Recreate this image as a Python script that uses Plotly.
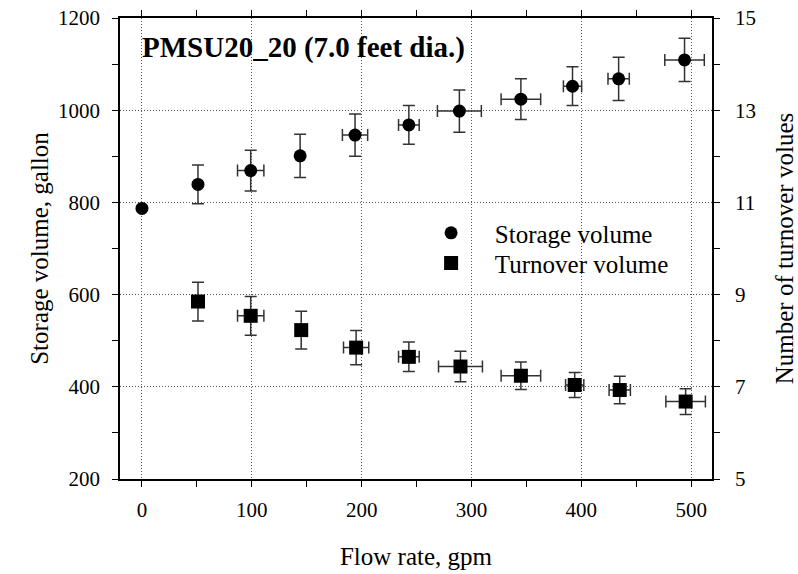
import plotly.graph_objects as go

# ---- data ----
storage_x = [0, 51, 99, 144, 194, 243, 289, 345, 392, 434, 494]
storage_y = [787, 839, 869, 901, 946, 968, 998, 1024, 1052, 1068, 1109]
storage_yerr = [None, 42, 44, 47, 46, 42, 46, 44, 42, 47, 47]
storage_xerr = [None, None, 12, None, 11.5, 9.4, 20, 18, 8.3, 9.7, 18]

turnover_x = [51, 99, 145, 195, 243, 290, 345, 394, 435, 495]
turnover_y = [585, 554, 523, 485, 465, 444, 424, 404, 393, 368]
turnover_yerr = [42, 42, 41, 37, 32, 33, 30, 27, 30, 28]
turnover_xerr = [None, 12, None, 11.5, 9.4, 20, 18, 8.3, 9.7, 18]

x_ticks = [0, 100, 200, 300, 400, 500]
y_ticks = [200, 400, 600, 800, 1000, 1200]
y2_ticks = [5, 7, 9, 11, 13, 15]

FONT = "Liberation Serif, Times New Roman, serif"
ERR = dict(type="data", color="#333333", thickness=1.5, width=6)
PAD = "\u00a0\u00a0\u00a0\u2009"

fig = go.Figure()
fig.add_trace(go.Scatter(
    x=storage_x, y=storage_y, mode="markers",
    name=PAD + "Storage volume", legend="legend",
    marker=dict(symbol="circle", size=13, color="black"),
    error_y=dict(array=storage_yerr, **ERR),
    error_x=dict(array=storage_xerr, **ERR),
))
fig.add_trace(go.Scatter(
    x=turnover_x, y=turnover_y, mode="markers",
    name=PAD + "Turnover volume", legend="legend2",
    marker=dict(symbol="square", size=14, color="black"),
    error_y=dict(array=turnover_yerr, **ERR),
    error_x=dict(array=turnover_xerr, **ERR),
))
# empty trace so the right-hand axis is drawn
fig.add_trace(go.Scatter(x=[None], y=[None], yaxis="y2", showlegend=False,
                         hoverinfo="skip", mode="markers"))

axis_common = dict(
    ticks="outside", ticklen=6, tickwidth=1, tickcolor="black",
    showline=True, linecolor="black", linewidth=1.5, automargin=False,
    zeroline=False, tickfont=dict(family=FONT, size=21, color="black"),
)
GRID = dict(showgrid=True, gridcolor="#555555", griddash="1px,2px", gridwidth=1)
LEG = dict(xanchor="left", yanchor="middle",
           font=dict(family=FONT, size=25, color="black"),
           bgcolor="rgba(0,0,0,0)", borderwidth=0)

fig.update_layout(
    width=798, height=574,
    margin=dict(l=120, r=86, t=18, b=95, autoexpand=False),
    paper_bgcolor="white", plot_bgcolor="white",
    font=dict(family=FONT, color="black"),
    showlegend=True,
    legend=dict(x=0.5255, y=0.5335, **LEG),
    legend2=dict(x=0.5255, y=0.468, **LEG),
    xaxis=dict(
        range=[-20, 519], tickvals=x_ticks, mirror="ticks",
        minor=dict(dtick=50, tick0=0, ticks="outside", ticklen=6, tickcolor="black", showgrid=False),
        title=dict(text="Flow rate, gpm", font=dict(family=FONT, size=25), standoff=27),
        ticklabelstandoff=5,
        **GRID, **axis_common,
    ),
    yaxis=dict(
        range=[200, 1200], tickvals=y_ticks, mirror=True,
        minor=dict(dtick=100, tick0=0, ticks="outside", ticklen=6, tickcolor="black", showgrid=False),
        title=dict(text="Storage volume, gallon", font=dict(family=FONT, size=25), standoff=2),
        ticklabelstandoff=8,
        **GRID, **axis_common,
    ),
    yaxis2=dict(
        range=[5, 15], tickvals=y2_ticks, overlaying="y", side="right",
        showgrid=False,
        minor=dict(dtick=1, tick0=5, ticks="outside", ticklen=6, tickcolor="black", showgrid=False),
        title=dict(text="Number of turnover volues", font=dict(family=FONT, size=25), standoff=25),
        ticklabelstandoff=11,
        **axis_common,
    ),
    annotations=[dict(
        text="<b>PMSU20_20 (7.0 feet dia.)</b>", xref="paper", yref="paper",
        x=0.034, y=0.935, xanchor="left", yanchor="middle", showarrow=False,
        font=dict(family=FONT, size=29, color="black"),
    )],
)

fig.write_html("out.html")
